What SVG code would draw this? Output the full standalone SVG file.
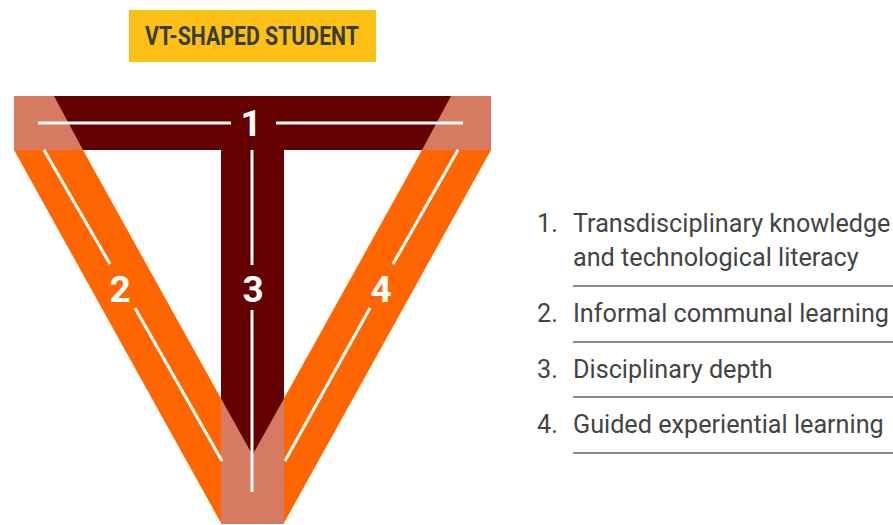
<svg xmlns="http://www.w3.org/2000/svg" width="893" height="525" viewBox="0 0 893 525">
  <style>
    .dark { fill: #640000; }
    .orange { fill: #ff6600; }
    .overlap { fill: #d67a62; }
    .guide { stroke: #ffffff; stroke-width: 3; fill: none; }
    .num { font-family: Roboto, "Liberation Sans", sans-serif; font-weight: 700; font-size: 37px; fill: #ffffff; text-anchor: middle; }
    .item { font-family: Roboto, "Liberation Sans", sans-serif; font-size: 25.2px; fill: #444444; }
    .rule { stroke: #8c8c8c; stroke-width: 2; }
  </style>

  <rect width="893" height="525" fill="#ffffff"/>

  <!-- heading badge -->
  <g id="title">
    <rect x="129" y="10" width="247" height="52" fill="#fdc116"/>
    <text x="145" y="45" textLength="214" lengthAdjust="spacingAndGlyphs" font-family="Roboto, 'Liberation Sans', sans-serif" font-weight="700" font-size="25" fill="#3b3b3b">VT-SHAPED STUDENT</text>
  </g>

  <!-- T: crossbar (1) and stem (3) -->
  <g id="bar-1">
    <rect class="dark" x="14" y="96" width="477" height="54"/>
  </g>
  <g id="stem-3">
    <rect class="dark" x="221" y="150" width="63" height="374"/>
  </g>

  <!-- V: diagonal bands (2, 4) -->
  <g id="band-2">
    <polygon class="orange" points="14,150 83,150 221,398.6 221,523"/>
  </g>
  <g id="band-4">
    <polygon class="orange" points="491,150 422,150 284,398.6 284,523"/>
  </g>

  <!-- where the V crosses the T -->
  <g id="overlaps">
    <polygon class="overlap" points="14,96 54,96 83,150 14,150"/>
    <polygon class="overlap" points="491,96 451,96 422,150 491,150"/>
    <polygon class="overlap" points="221,398.6 252.5,455 284,398.6 284,524 221,524"/>
  </g>

  <!-- white centre lines -->
  <g id="connectors">
    <line class="guide" x1="38" y1="123" x2="231" y2="123"/>
    <line class="guide" x1="276" y1="123" x2="463" y2="123"/>
    <line class="guide" x1="252" y1="150" x2="252" y2="265"/>
    <line class="guide" x1="252" y1="310" x2="252" y2="492"/>
    <line class="guide" x1="44" y1="150" x2="110" y2="264"/>
    <line class="guide" x1="135" y1="308" x2="222" y2="461"/>
    <line class="guide" x1="458" y1="150" x2="393" y2="264"/>
    <line class="guide" x1="370" y1="308" x2="285" y2="461"/>
  </g>

  <!-- part numbers -->
  <g id="labels">
    <text class="num" x="251" y="136">1</text>
    <text class="num" x="120" y="302">2</text>
    <text class="num" x="253" y="302">3</text>
    <text class="num" x="381" y="302">4</text>
  </g>

  <!-- legend -->
  <g id="legend">
    <text class="item" x="537" y="232">1.</text>
    <text class="item" x="573" y="232">Transdisciplinary knowledge</text>
    <text class="item" x="573" y="266">and technological literacy</text>
    <line class="rule" x1="573" y1="286" x2="893" y2="286"/>
    <text class="item" x="537" y="322">2.</text>
    <text class="item" x="573" y="322">Informal communal learning</text>
    <line class="rule" x1="573" y1="342" x2="893" y2="342"/>
    <text class="item" x="537" y="378">3.</text>
    <text class="item" x="573" y="378">Disciplinary depth</text>
    <line class="rule" x1="573" y1="397" x2="893" y2="397"/>
    <text class="item" x="537" y="433">4.</text>
    <text class="item" x="573" y="433">Guided experiential learning</text>
    <line class="rule" x1="573" y1="453" x2="893" y2="453"/>
  </g>
</svg>
